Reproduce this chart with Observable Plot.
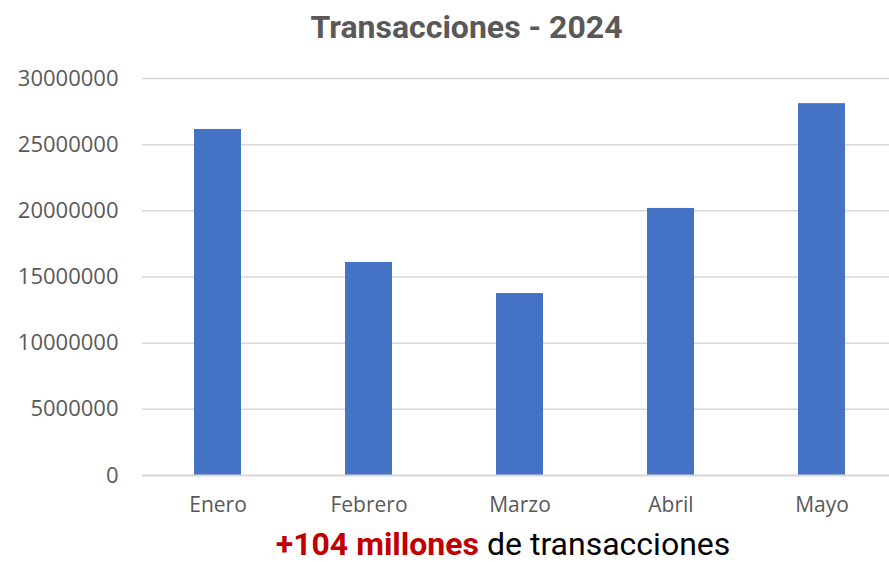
<!DOCTYPE html>
<html><head><meta charset="utf-8">
<script src="https://cdn.jsdelivr.net/npm/d3@7"></script>
<script src="https://cdn.jsdelivr.net/npm/@observablehq/plot@0.6"></script>
<style>
html,body{margin:0;padding:0;background:#fff;overflow:hidden;width:889px;height:562px;position:relative;}
#title{position:absolute;left:0;top:0;width:889px;height:55px;line-height:54px;text-align:center;font-family:Roboto,sans-serif;font-weight:bold;font-size:32px;color:#595959;padding-left:44px;box-sizing:border-box;}
#caption{position:absolute;left:0;top:526px;width:889px;height:36px;line-height:36px;text-align:center;font-family:Roboto,sans-serif;font-size:32px;color:#000;padding-left:117px;box-sizing:border-box;white-space:nowrap;}
#caption b{color:#C00000;}
#chart{position:absolute;left:0;top:55px;}
#chart svg{display:block;}
</style></head>
<body>
<div id="title">Transacciones - 2024</div>
<div id="chart"></div>
<div id="caption"><b>+104 millones</b> de transacciones</div>
<script>
const months = ["Enero","Febrero","Marzo","Abril","Mayo"];
const values = [26150000,16100000,13750000,20180000,28100000];
const yTicks = [0,5000000,10000000,15000000,20000000,25000000,30000000];
const data = months.map((m,i)=>({month:m, value:values[i]}));
const chart = Plot.plot({
  width: 889,
  height: 470,
  marginTop: 23,
  marginBottom: 50,
  marginLeft: 142,
  marginRight: 0,
  style: {fontFamily: "'Open Sans', sans-serif", fontSize: "21px", color: "#595959", background: "#fff"},
  x: {domain: months, range: [142, 897], paddingInner: 0.69, paddingOuter: 0.345, label: null},
  y: {domain: [0, 30000000], label: null},
  marks: [
    Plot.gridY(yTicks, {stroke: "#d9d9d9", strokeOpacity: 1, strokeWidth: 1.5}),
    Plot.barY(data, {x: "month", y: "value", fill: "#4472C4"}),
    Plot.ruleY([0], {stroke: "#d9d9d9", strokeWidth: 2}),
    Plot.axisY(yTicks, {tickSize: 0, tickPadding: 24, tickFormat: d3.format("d"), fill: "#595959", fontSize: 22, label: null}),
    Plot.axisX({tickSize: 0, tickPadding: 22, fill: "#595959", fontSize: 21, label: null})
  ]
});
document.getElementById("chart").appendChild(chart);
</script>
</body></html>
